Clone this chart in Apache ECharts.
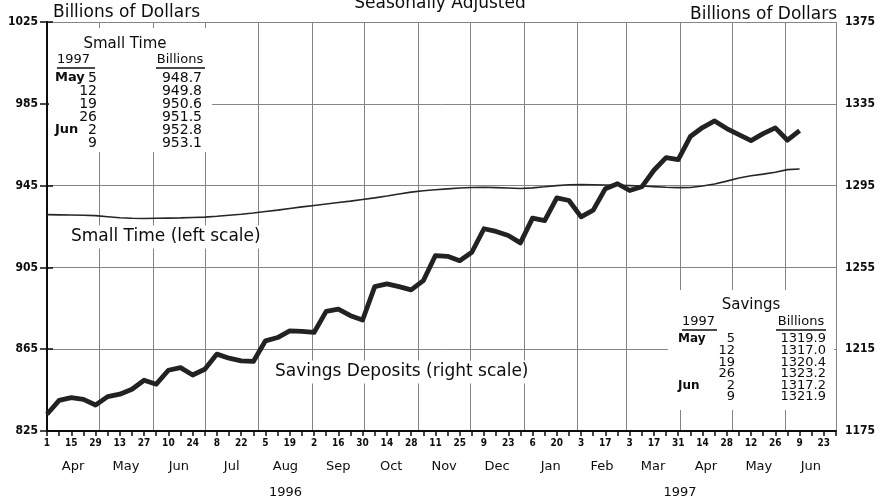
<!DOCTYPE html>
<html>
<head>
<meta charset="utf-8">
<script src="https://cdn.jsdelivr.net/npm/echarts@6/dist/echarts.min.js"></script>
<style>
    html, body { margin: 0; padding: 0; background: #fff; }
    #chart { width: 886px; height: 504px; }
</style>
</head>
<body>
<div id="chart"></div>
<script>
    // weekly points, first one is Mon Apr 1 1996
    var startDate = Date.UTC(1996, 3, 1);
    var dayMs = 86400000;

    var smallTime = [
        930.8, 930.7, 930.6, 930.5, 930.3, 929.8, 929.3, 929.0, 928.9, 929.0,
        929.1, 929.2, 929.4, 929.6, 930.0, 930.5, 931.0, 931.6, 932.3, 933.0,
        933.8, 934.6, 935.3, 936.0, 936.7, 937.4, 938.2, 939.0, 939.9, 940.9,
        941.8, 942.5, 943.0, 943.4, 943.8, 944.1, 944.2, 944.0, 943.8, 943.6,
        943.9, 944.4, 945.0, 945.4, 945.5, 945.4, 945.3, 945.2, 945.0, 944.8,
        944.5, 944.2, 944.0, 944.1, 944.8, 945.8, 947.2, 948.7, 949.8, 950.6,
        951.5, 952.8, 953.1
    ];
    var savings = [
        1183.2, 1190.0, 1191.3, 1190.5, 1187.7, 1191.8, 1193.0, 1195.4, 1199.8, 1197.9,
        1204.7, 1206.0, 1202.4, 1205.2, 1212.6, 1210.6, 1209.3, 1209.0, 1219.1, 1220.7,
        1224.0, 1223.7, 1223.2, 1233.5, 1234.6, 1231.4, 1229.3, 1245.6, 1246.9, 1245.6,
        1244.0, 1248.5, 1260.8, 1260.4, 1258.3, 1262.4, 1273.9, 1272.6, 1270.6, 1267.0,
        1279.1, 1277.9, 1289.0, 1287.7, 1279.7, 1283.0, 1293.5, 1295.9, 1292.6, 1294.4,
        1302.5, 1308.7, 1307.7, 1319.0, 1323.4, 1326.6, 1322.9, 1319.9, 1317.0, 1320.4,
        1323.2, 1317.2, 1321.9
    ];

    var monthNames = ['Apr', 'May', 'Jun', 'Jul', 'Aug', 'Sep', 'Oct', 'Nov', 'Dec',
                      'Jan', 'Feb', 'Mar', 'Apr', 'May', 'Jun'];
    var yearNames = ['1996', '1997'];
    var tableMonths = ['May', '', '', '', 'Jun', ''];
    var tableDays = ['5', '12', '19', '26', '2', '9'];

    var lastDay = 455;   // Jun 30 1997, right edge of the axis

    // month boundaries (days from start) -> gridlines, mid-month -> labels
    var monthStarts = [];
    for (var k = 0; k <= 15; k++) {
        monthStarts.push(Math.min((Date.UTC(1996, 3 + k, 1) - startDate) / dayMs, lastDay));
    }
    var monthMids = [];
    for (var k = 0; k < 15; k++) {
        monthMids.push((monthStarts[k] + monthStarts[k + 1]) / 2);
    }
    var jan97 = (Date.UTC(1997, 0, 1) - startDate) / dayMs;
    var yearMids = [jan97 / 2, (jan97 + lastDay) / 2];

    function pickByValue(list, names, v) {
        var best = 0;
        for (var i = 1; i < list.length; i++) {
            if (Math.abs(list[i] - v) < Math.abs(list[best] - v)) best = i;
        }
        return names[best];
    }

    var ink = '#0d0d0d';
    var grid = '#858585';
    var mainFont = '"DejaVu Sans", sans-serif';
    var condFont = '"DejaVu Sans Condensed", "Liberation Sans Narrow", sans-serif';

    var myChart = echarts.init(document.getElementById('chart'));

    var option = {
        animation: false,
        backgroundColor: '#fff',
        grid: { left: 47, right: 50, top: 22, bottom: 73, containLabel: false, outerBoundsMode: 'none' },
        xAxis: [
            {
                type: 'value', min: 0, max: lastDay, interval: 7, position: 'bottom',
                axisLine: { show: true, lineStyle: { color: ink, width: 2 } },
                axisTick: { show: true, length: 5, lineStyle: { color: ink, width: 1.5 } },
                axisLabel: {
                    margin: 7, color: ink, fontFamily: condFont, fontWeight: 'bold', fontSize: 10,
                    formatter: function (v) {
                        if ((v / 7) % 2 !== 0) return '';
                        return String(new Date(startDate + v * dayMs).getUTCDate());
                    }
                },
                splitLine: { show: false }
            },
            {
                type: 'value', min: 0, max: lastDay, position: 'bottom',
                axisLine: { show: false },
                axisTick: { show: false, customValues: monthStarts },
                axisLabel: {
                    customValues: monthMids, margin: 29, color: ink, fontFamily: mainFont, fontSize: 13,
                    formatter: function (v) { return pickByValue(monthMids, monthNames, v); }
                },
                splitLine: { show: true, lineStyle: { color: grid, width: 1 } }
            },
            {
                type: 'value', min: 0, max: lastDay, position: 'bottom',
                axisLine: { show: false },
                axisTick: { show: false },
                axisLabel: {
                    customValues: yearMids, margin: 55, color: ink, fontFamily: mainFont, fontSize: 13,
                    formatter: function (v) { return pickByValue(yearMids, yearNames, v); }
                },
                splitLine: { show: false }
            }
        ],
        yAxis: [
            {
                type: 'value', min: 825, max: 1025, interval: 40, position: 'left',
                axisLine: { show: true, lineStyle: { color: ink, width: 2 } },
                axisTick: { show: true, length: 7, lineStyle: { color: ink, width: 1.5 } },
                axisLabel: { margin: 9, color: ink, fontFamily: condFont, fontWeight: 'bold', fontSize: 12,
                             formatter: function (v) { return String(v); } },
                splitLine: { show: true, lineStyle: { color: grid, width: 1 } }
            },
            {
                type: 'value', min: 1175, max: 1375, interval: 40, position: 'right',
                axisLine: { show: true, lineStyle: { color: ink, width: 2 } },
                axisTick: { show: true, length: 6, lineStyle: { color: ink, width: 1.5 } },
                axisLabel: { margin: 9, color: ink, fontFamily: condFont, fontWeight: 'bold', fontSize: 12,
                             formatter: function (v) { return String(v); } },
                splitLine: { show: false }
            }
        ],
        series: [
            {
                name: 'Small Time', type: 'line', xAxisIndex: 0, yAxisIndex: 0,
                symbol: 'none', silent: true, z: 3,
                lineStyle: { color: '#262626', width: 1.6 },
                data: smallTime.map(function (v, i) { return [i * 7, v]; })
            },
            {
                name: 'Savings', type: 'line', xAxisIndex: 0, yAxisIndex: 1,
                symbol: 'none', silent: true, z: 4,
                lineStyle: { color: '#222', width: 4.8, join: 'round' },
                data: savings.map(function (v, i) { return [i * 7, v]; })
            }
        ]
    };

    // text blocks
    function txt(x, y, s, align, size, extra) {
        var st = { text: s, x: 0, y: 0, align: align || 'left', verticalAlign: 'middle',
                   font: (size || 14) + 'px ' + mainFont, fill: ink };
        if (extra) for (var key in extra) st[key] = extra[key];
        return { type: 'text', x: x, y: y, z: 10, silent: true, style: st };
    }
    function uline(x1, x2, y) {
        return { type: 'line', z: 10, silent: true, shape: { x1: x1, y1: y, x2: x2, y2: y },
                 style: { stroke: ink, lineWidth: 1.5 } };
    }

    var graphics = [
        // white patches where the tables sit over the gridlines
        { type: 'rect', z: 2, silent: true, shape: { x: 49, y: 28, width: 163, height: 124 }, style: { fill: '#fff' } },
        { type: 'rect', z: 2, silent: true, shape: { x: 668, y: 290, width: 166, height: 120 }, style: { fill: '#fff' } },

        txt(53, 13, 'Billions of Dollars', 'left', 17),
        txt(440, 4, 'Seasonally Adjusted', 'center', 17),
        txt(837, 15, 'Billions of Dollars', 'right', 17),

        txt(68, 237, 'Small Time (left scale)', 'left', 17, { backgroundColor: '#fff', padding: [3, 3] }),
        txt(272, 372, 'Savings Deposits (right scale)', 'left', 17, { backgroundColor: '#fff', padding: [3, 3] }),

        txt(125, 44, 'Small Time', 'center', 15),
        txt(57, 60, '1997', 'left', 13),
        uline(57, 95, 68),
        txt(180, 60, 'Billions', 'center', 13),
        uline(156, 205, 68),

        txt(751, 305, 'Savings', 'center', 15),
        txt(682, 322, '1997', 'left', 13),
        uline(682, 717, 330),
        txt(801, 322, 'Billions', 'center', 13),
        uline(776, 826, 330)
    ];

    var smallTail = smallTime.slice(-6);
    var savingsTail = savings.slice(-6);
    for (var r = 0; r < 6; r++) {
        var y1 = 78 + r * 13;
        graphics.push(txt(55, y1, tableMonths[r], 'left', 13, { font: 'bold 13px ' + mainFont }));
        graphics.push(txt(97, y1, tableDays[r], 'right', 14));
        graphics.push(txt(202, y1, smallTail[r].toFixed(1), 'right', 14));

        var y2 = 339 + r * 11.6;
        graphics.push(txt(678, y2, tableMonths[r], 'left', 12, { font: 'bold 12px ' + mainFont }));
        graphics.push(txt(735, y2, tableDays[r], 'right', 13));
        graphics.push(txt(826, y2, savingsTail[r].toFixed(1), 'right', 13));
    }
    option.graphic = graphics;

    myChart.setOption(option);
</script>
</body>
</html>
